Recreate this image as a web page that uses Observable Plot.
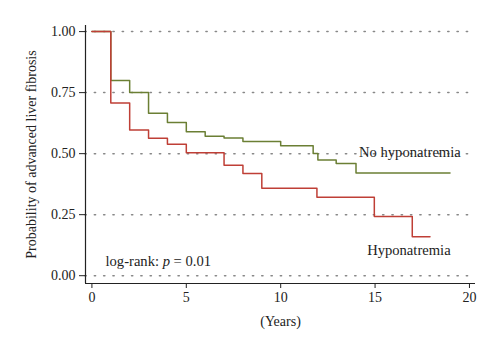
<!DOCTYPE html>
<html>
<head>
<meta charset="utf-8">
<script src="https://cdn.jsdelivr.net/npm/d3@7"></script>
<script src="https://cdn.jsdelivr.net/npm/@observablehq/plot@0.6"></script>
<style>
  html, body { margin: 0; padding: 0; background: #fff; }
</style>
</head>
<body>
<div id="chart"></div>
<script>
// Kaplan-Meier step data (years, probability)
const noHypoTimes  = [0, 1, 2, 3, 4, 5, 6, 7, 8, 10, 11.72, 11.97, 12.94, 13.99, 18.97];
const noHypoValues = [1, 0.80, 0.75, 0.665, 0.628, 0.590, 0.571, 0.564, 0.550, 0.532, 0.501, 0.474, 0.460, 0.421, 0.421];
const hypoTimes    = [0, 1, 2, 3, 4, 5, 7, 8, 9, 11.92, 14.96, 16.97, 17.91];
const hypoValues   = [1, 0.708, 0.597, 0.563, 0.538, 0.504, 0.452, 0.419, 0.358, 0.321, 0.242, 0.160, 0.160];

const xTicks = [0, 5, 10, 15, 20];
const yTicks = [0, 0.25, 0.5, 0.75, 1];
const xDomain = [-0.34, 20.32];
const yDomain = [-0.032, 1.025];

const labelNames = ["No hyponatremia", "Hyponatremia", "log-rank: p = 0.01"];
const labelX = [14.15, 14.58, 0.72];
const labelY = [0.488, 0.086, 0.041];

const green = "#6b7f34";
const red = "#bf3f36";

const noHypo = noHypoTimes.map((t, i) => ({t, s: noHypoValues[i]}));
const hypo = hypoTimes.map((t, i) => ({t, s: hypoValues[i]}));
const labels = labelNames.map((n, i) => ({n, x: labelX[i], y: labelY[i]}));

const chart = Plot.plot({
  width: 500,
  height: 353,
  marginLeft: 85,
  marginRight: 25,
  marginTop: 25,
  marginBottom: 70,
  style: {fontFamily: "'Liberation Serif', 'Times New Roman', serif", fontSize: "14px", color: "#222", background: "#fff"},
  x: {domain: xDomain},
  y: {domain: yDomain},
  marks: [
    Plot.ruleY(yTicks, {x1: xDomain[0], x2: d3.max(xTicks), stroke: "#888", strokeWidth: 1.5, strokeDasharray: "1.3,8", strokeLinecap: "round"}),
    Plot.ruleX([xDomain[0]], {stroke: "#222", strokeWidth: 1.2}),
    Plot.ruleY([yDomain[0]], {stroke: "#222", strokeWidth: 1.2}),
    Plot.axisY({ticks: yTicks, tickFormat: d3.format(".2f"), tickSize: 6, tickPadding: 4, label: "Probability of advanced liver fibrosis", labelAnchor: "center", labelArrow: "none", labelOffset: 59, stroke: "#222"}),
    Plot.axisX({ticks: xTicks, tickSize: 5, tickPadding: 4, label: "(Years)", labelAnchor: "center", labelArrow: "none", labelOffset: 42, stroke: "#222"}),
    Plot.line(noHypo, {x: "t", y: "s", curve: "step-after", stroke: green, strokeWidth: 1.5}),
    Plot.line(hypo, {x: "t", y: "s", curve: "step-after", stroke: red, strokeWidth: 1.5}),
    Plot.text(labels, {x: "x", y: "y", text: "n", textAnchor: "start", lineAnchor: "bottom", fill: "#222", fontSize: 14.6})
  ]
});
document.getElementById("chart").appendChild(chart);

// italicize "p" in the log-rank annotation
d3.select(chart).selectAll("text").each(function() {
  const t = d3.select(this);
  if (t.text() === "log-rank: p = 0.01") {
    t.text(null);
    t.append("tspan").text("log-rank: ");
    t.append("tspan").attr("font-style", "italic").text("p");
    t.append("tspan").text(" = 0.01");
  }
});
</script>
</body>
</html>
